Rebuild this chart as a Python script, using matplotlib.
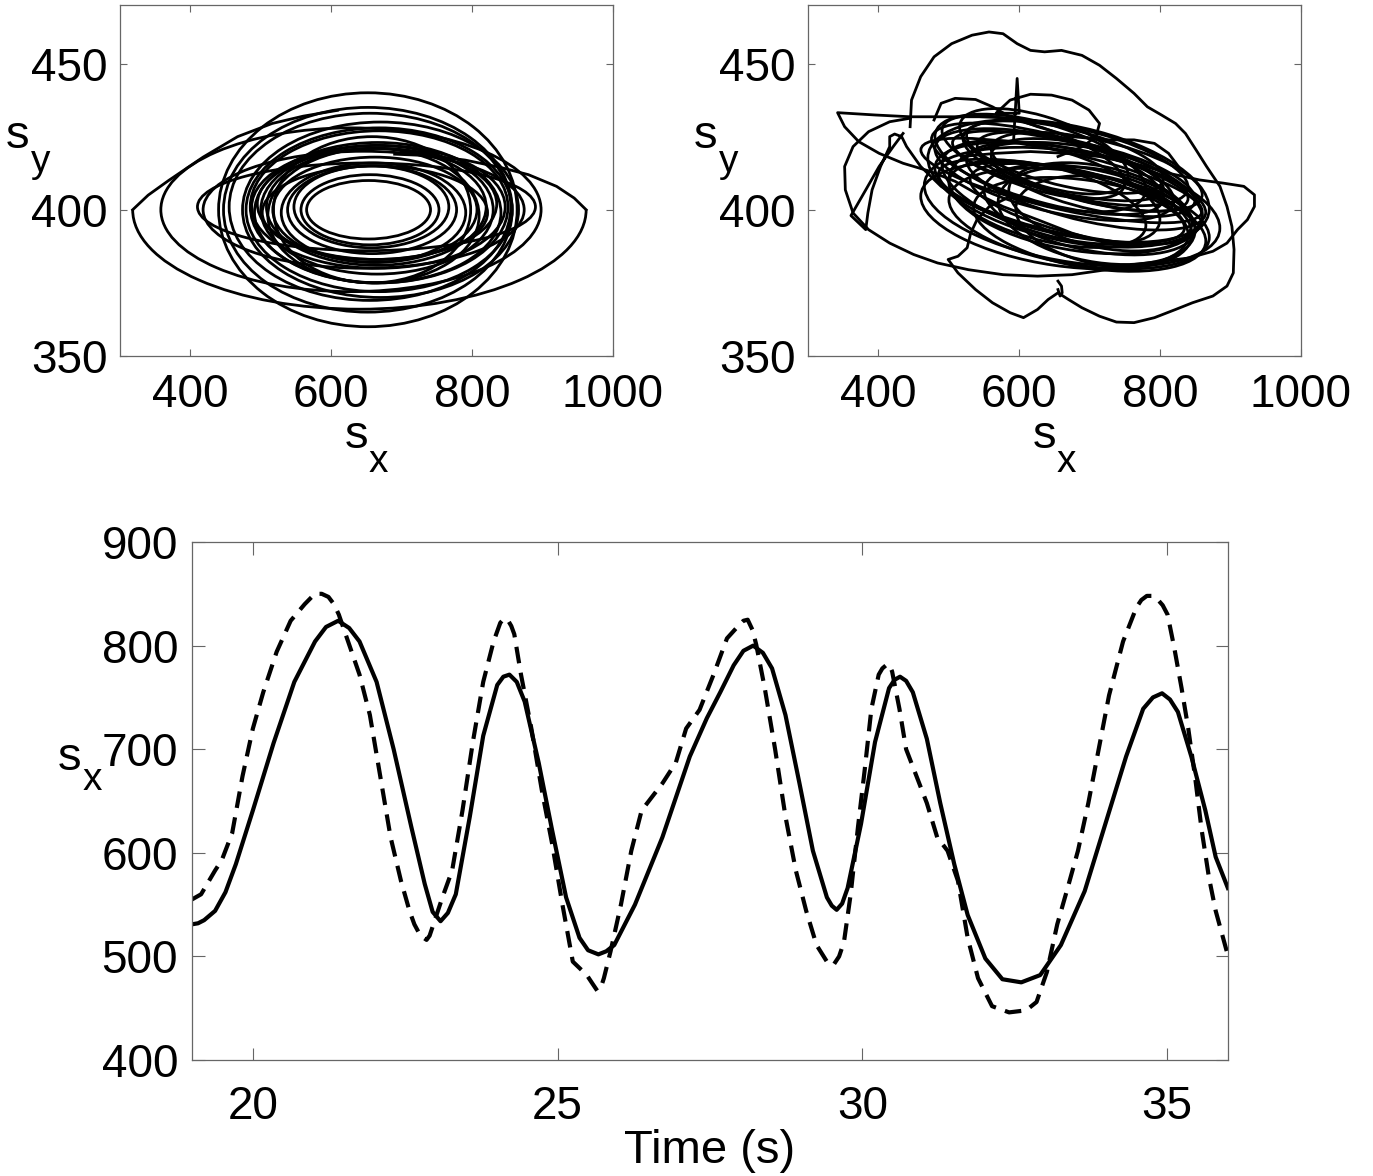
import matplotlib
matplotlib.use('Agg')
import matplotlib.pyplot as plt
from matplotlib.patches import Ellipse, Arc

plt.rcParams['font.family'] = ['Liberation Sans', 'DejaVu Sans']

# ---- bottom panel: s_x against time ----
t_solid = [19.0, 19.1, 19.2, 19.38, 19.55, 19.72, 20.0, 20.34, 20.68, 21.02, 21.2, 21.40,
           21.58, 21.75, 22.03, 22.31, 22.60, 22.82, 22.95, 23.08, 23.2, 23.33, 23.56,
           23.78, 24.01, 24.11, 24.21, 24.33, 24.46, 24.69, 24.91, 25.14, 25.36, 25.5,
           25.67, 25.8, 25.93, 26.27, 26.72, 27.17, 27.45, 27.67, 27.89, 28.05, 28.21,
           28.37, 28.52, 28.74, 28.97, 29.19, 29.42, 29.5, 29.58, 29.67, 29.76, 29.98,
           30.21, 30.44, 30.53, 30.62, 30.72, 30.83, 31.06, 31.28, 31.51, 31.73, 32.02,
           32.30, 32.61, 32.92, 33.26, 33.65, 33.99, 34.33, 34.61, 34.77, 34.92, 35.05,
           35.18, 35.40, 35.63, 35.80, 36.0]
sx_solid = [531, 532, 535, 544, 562, 589, 641, 706, 765, 804, 818, 824,
            817, 804, 765, 700, 625, 570, 543, 534, 542, 560, 635,
            713, 762, 770, 772, 765, 746, 687, 622, 557, 518, 506,
            502, 505, 511, 550, 615, 693, 730, 755, 781, 795, 800,
            793, 778, 733, 667, 602, 557, 549, 545, 551, 566, 628,
            707, 759, 767, 770, 766, 755, 710, 648, 589, 540, 498,
            478, 475, 482, 511, 563, 628, 693, 739, 750, 754, 748,
            736, 693, 641, 596, 566]

t_dash = [19.0, 19.15, 19.38, 19.49, 19.66, 19.83, 20.0, 20.17, 20.39, 20.62, 20.85, 20.95,
          21.02, 21.13, 21.24, 21.33, 21.41, 21.58, 21.75, 21.92, 22.09, 22.26, 22.43,
          22.57, 22.65, 22.75, 22.85, 22.9, 22.94, 23.11, 23.27, 23.44, 23.61, 23.78,
          23.95, 24.06, 24.12, 24.18, 24.24, 24.29, 24.40, 24.57, 24.74, 24.91, 25.08,
          25.25, 25.48, 25.57, 25.65, 25.71, 25.76, 25.87, 26.04, 26.21, 26.38, 26.55,
          26.72, 26.94, 27.11, 27.33, 27.56, 27.78, 27.95, 28.05, 28.12, 28.2, 28.26,
          28.40, 28.57, 28.74, 28.91, 29.08, 29.25, 29.42, 29.48, 29.53, 29.62, 29.70,
          29.81, 29.93, 30.04, 30.15, 30.27, 30.33, 30.41, 30.45, 30.49, 30.61, 30.72,
          30.89, 31.06, 31.23, 31.40, 31.57, 31.73, 31.90, 32.13, 32.41, 32.69, 32.86,
          33.03, 33.20, 33.37, 33.54, 33.71, 33.88, 34.05, 34.28, 34.50, 34.58, 34.67,
          34.76, 34.84, 34.93, 35.01, 35.12, 35.24, 35.35, 35.46, 35.57, 35.69, 35.80,
          36.0]
sx_dash = [555, 560, 583, 593, 619, 674, 720, 755, 794, 824, 840, 846,
           850, 850, 847, 840, 830, 801, 772, 733, 674, 615, 573,
           544, 531, 520, 516, 520, 527, 557, 583, 641, 707, 765,
           804, 822, 826, 825, 819, 811, 772, 720, 661, 609, 550,
           495, 482, 474, 467, 470, 479, 505, 550, 602, 641, 654,
           667, 687, 720, 738, 772, 807, 818, 824, 825, 815, 801,
           759, 700, 635, 583, 544, 511, 495, 492, 492, 500, 514,
           560, 625, 680, 739, 772, 778, 782, 781, 775, 739, 700,
           674, 648, 615, 602, 573, 518, 479, 452, 446, 448, 456,
           485, 531, 566, 602, 648, 700, 752, 804, 837, 844, 848,
           848, 845, 839, 830, 798, 759, 720, 674, 622, 576, 544,
           501]

# ---- top left: loops as (x centre, y centre, width, height) ----
left_cx = [653, 655, 657, 658, 660, 662, 664, 665, 666, 668, 668, 670,
           665, 660, 652, 652, 655, 646, 628, 650, 662, 658, 667]
left_cy = [400, 400, 401, 400, 399, 400, 401, 400, 399, 401, 400, 400,
           402, 398, 400, 400, 401, 400, 400, 401, 399, 400, 401]
left_w = [176, 196, 220, 240, 262, 290, 312, 330, 350, 366, 378, 392,
          340, 300, 410, 424, 400, 456, 540, 480, 320, 280, 360]
left_h = [20, 24, 28, 30, 34, 36, 40, 44, 48, 52, 56, 60,
          38, 46, 70, 80, 64, 40, 56, 30, 32, 50, 42]
# outermost wide loop: lower half as an arc, upper branches spiral inwards
outer_loop = (640, 400, 644, 68)
outer_ul_x = [318, 340, 369, 418, 467, 516, 560, 609]
outer_ul_y = [400, 405, 410, 418, 425, 429.5, 432, 434]
outer_ur_x = [962, 945, 920, 880, 840, 790, 740, 690]
outer_ur_y = [400, 404, 408, 412, 414.5, 417, 418.5, 419]

# ---- top right: flat tilted loops (x centre, y centre, width, height, angle) ----
right_cx = [650, 670, 690, 630, 710, 660, 680, 640, 700, 620, 720, 655, 675, 695,
            645, 665, 685, 705, 635, 715, 660, 690, 650, 680, 700, 670, 640, 710]
right_cy = [412, 406, 402, 416, 398, 410, 404, 414, 400, 418, 396, 415, 401, 408,
            406, 418, 397, 411, 420, 401, 403, 413, 398, 416, 395, 409, 402, 413]
right_w = [340, 380, 320, 300, 280, 400, 360, 330, 300, 260, 250, 300, 420, 340,
           310, 280, 370, 290, 240, 260, 350, 300, 380, 320, 330, 400, 280, 300]
right_h = [26, 30, 22, 28, 32, 20, 36, 24, 28, 22, 30, 18, 38, 24,
           30, 20, 32, 22, 24, 28, 22, 20, 34, 24, 30, 40, 26, 22]
right_ang = [-3, -2.5, -3, -3.5, -2, -3, -2, -3.5, -2.5, -4, -2, -3, -2, -3,
             -3.5, -3, -2, -3, -4, -2.5, -3, -3.5, -2, -3, -2, -2.5, -3, -3]

# irregular excursions of the right trajectory
pathA_x = [445, 447, 460, 479, 504, 533, 557, 577, 597, 616, 636, 660, 689, 714, 738, 763,
           782, 802, 822, 836, 851, 866, 885, 895, 902, 905, 904, 895, 875, 846, 822, 792,
           763, 738, 714, 689, 670, 655, 641, 626, 606, 587, 562, 538, 513, 499, 513, 526,
           531, 540, 557, 587]
pathA_y = [428.4, 437.5, 445.5, 452.3, 456.8, 459.7, 460.8, 460.2, 456.8, 454.5, 454, 454.5,
           452.8, 449.4, 444.9, 439.8, 435.2, 432.4, 429.5, 426.1, 420.5, 414.8, 408, 401.1,
           394.3, 386.4, 378.4, 373.9, 370.5, 368.2, 365.9, 363.1, 361.4, 361.6, 363.6, 366.5,
           369.3, 371.6, 369.3, 365.9, 363.1, 364.8, 368.2, 372.7, 378.4, 383, 384.1, 387,
           392, 396.6, 401, 404.5]
pathB_x = [445, 416, 386, 364, 352, 353, 364, 386, 416, 450, 484, 528, 577, 626, 675, 724,
           763, 802, 841, 875, 895, 910, 924, 934, 934, 919, 890, 856, 812, 763, 714, 665,
           616, 567, 518]
pathB_y = [431.3, 430.1, 426.7, 421.6, 414.8, 406.8, 398.9, 393.2, 388.6, 384.7, 381.8, 379.5,
           377.8, 377.3, 377.8, 379.5, 381.3, 382.4, 383.5, 385.8, 388.6, 393.2, 396.6, 401.1,
           405.1, 408, 409.1, 410.2, 412.5, 415.9, 418.2, 419.3, 419.9, 419.3, 418.2]
pathC_x = [699, 646, 592, 543, 494, 445, 396, 342, 352, 372, 401, 435, 474, 509, 538, 577,
           626, 675, 724, 773]
pathC_y = [426.1, 429.5, 431.3, 431.8, 431.8, 431.8, 432.4, 433.2, 428.4, 423.3, 419.3, 415.9,
           413.1, 409.7, 405.7, 401.1, 396.6, 392, 388.6, 387.5]
pathD_x = [435, 421, 401, 382, 361, 382, 385, 391, 403, 416, 416, 423, 433, 440, 460, 489,
           518, 557]
pathD_y = [426.1, 421.6, 414.8, 406.8, 398, 393.2, 398.9, 406.8, 414.8, 421.6, 425, 425.9,
           425, 421.6, 414.8, 408, 403.4, 398.9]
pathE_x = [592, 597, 600, 567, 587, 616, 646, 675, 699, 714, 709, 690, 655]
pathE_y = [423.9, 444.9, 433, 433, 437.5, 439.5, 439.2, 437.5, 434.1, 429.5, 425, 421.6, 418.2]
pathF_x = [479, 489, 509, 538, 562, 587, 626, 675, 724, 763, 792, 812, 826]
pathF_y = [430.7, 436.4, 438.1, 437.7, 435.2, 431.8, 428.4, 425, 423.9, 423.9, 422.7, 419.3,
           414.8]
pathG_x = [655, 660, 661, 658, 655]
pathG_y = [375.6, 373.9, 371.6, 370.5, 372.7]

fig = plt.figure(figsize=(13.73, 11.76), dpi=100)
ax1 = fig.add_axes([0.0874, 0.6973, 0.359, 0.2984])
ax2 = fig.add_axes([0.5885, 0.6973, 0.359, 0.2984])
ax3 = fig.add_axes([0.1398, 0.0986, 0.7545, 0.4405])

lw_top = 2.0
for i in range(len(left_cx)):
    ax1.add_patch(Ellipse((left_cx[i], left_cy[i]), left_w[i], left_h[i],
                          fill=False, edgecolor='k', lw=lw_top))
ox, oy, ow, oh = outer_loop
ax1.add_patch(Arc((ox, oy), ow, oh, theta1=180, theta2=360, edgecolor='k', lw=lw_top))
ax1.plot(outer_ul_x, outer_ul_y, color='k', lw=lw_top)
ax1.plot(outer_ur_x, outer_ur_y, color='k', lw=lw_top)

for i in range(len(right_cx)):
    ax2.add_patch(Ellipse((right_cx[i], right_cy[i]), right_w[i], right_h[i],
                          angle=right_ang[i], fill=False, edgecolor='k', lw=lw_top))
for px, py in [(pathA_x, pathA_y), (pathB_x, pathB_y), (pathC_x, pathC_y),
               (pathD_x, pathD_y), (pathE_x, pathE_y), (pathF_x, pathF_y),
               (pathG_x, pathG_y)]:
    ax2.plot(px, py, color='k', lw=lw_top)


def sub_label(ax, letter, sub, xs, ys, xsub, ysub):
    # Matlab style label: letter with a large, low subscript
    ax.text(xs, ys, letter, transform=ax.transAxes, fontsize=34, ha='center',
            va='baseline', clip_on=False)
    ax.text(xsub, ysub, sub, transform=ax.transAxes, fontsize=28, ha='left',
            va='baseline', clip_on=False)


for ax in [ax1, ax2]:
    ax.set_xlim(300, 1000)
    ax.set_ylim(350, 470)
    ax.set_xticks([400, 600, 800, 1000])
    ax.set_yticks([350, 400, 450])
    ax.tick_params(direction='in', top=True, right=True, length=5, width=0.8,
                   color='#666666', labelsize=33, pad=9)
    ax.tick_params(axis='x', pad=12)
    sub_label(ax, 's', 'x', 0.48, -0.262, 0.505, -0.332)
    sub_label(ax, 's', 'y', -0.207, 0.5926, -0.18, 0.524)

ax3.plot(t_solid, sx_solid, color='k', lw=3.0)
ax3.plot(t_dash, sx_dash, color='k', lw=3.0, linestyle=(0, (4, 2.3)))
ax3.set_xlim(19, 36)
ax3.set_ylim(400, 900)
ax3.set_xticks([20, 25, 30, 35])
ax3.set_yticks([400, 500, 600, 700, 800, 900])
ax3.tick_params(direction='in', top=True, right=True, length=9, width=0.8,
                color='#666666', labelsize=33, pad=10)
ax3.tick_params(axis='x', pad=18)
ax3.set_xlabel('Time (s)', fontsize=34, labelpad=0)
sub_label(ax3, 's', 'x', -0.118, 0.560, -0.106, 0.521)

for ax in [ax1, ax2, ax3]:
    for sp in ax.spines.values():
        sp.set_color('#666666')
        sp.set_linewidth(0.9)

fig.savefig('out.png', dpi=100)
